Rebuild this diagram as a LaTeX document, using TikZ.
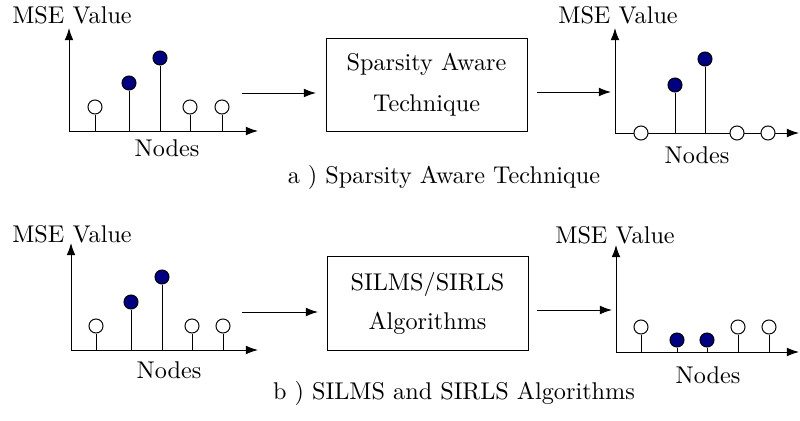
\documentclass[tikz,border=0pt]{standalone}
\usepackage{tikz}
\usetikzlibrary{shapes,arrows.meta}
\definecolor{darkblue}{RGB}{0,0,128}
\tikzstyle{hollow}=[circle,draw=black,fill=white,minimum size=5.8pt,inner sep=0pt]
\tikzstyle{solid}=[circle,draw=black,fill=darkblue,minimum size=5.8pt,inner sep=0pt]
\tikzstyle{blockbox}=[rectangle,draw=black,align=center,minimum width=83pt,minimum height=38.8pt,inner sep=0pt]
\tikzstyle{axis}=[-{Latex[length=5pt,width=3.6pt]}]

\begin{document}
\begin{tikzpicture}[x=0.413pt,y=-0.413pt]
\useasboundingbox (0,0) rectangle (800,421);
\coordinate (o1) at (69,131);
\coordinate (y1) at (69,28);
\coordinate (x1) at (258,131);
\node[hollow] (a11) at (95,107) {};
\node[solid] (a12) at (129,83) {};
\node[solid] (a13) at (160,58) {};
\node[hollow] (a14) at (190,107) {};
\node[hollow] (a15) at (222,107) {};
\draw (95,131) -- (a11);
\draw (129,131) -- (a12);
\draw (160,131) -- (a13);
\draw (190,131) -- (a14);
\draw (222,131) -- (a15);
\draw[axis] (o1) -- (y1);
\draw[axis] (o1) -- (x1);
\node[] (mse1) at (72,15) {MSE Value};
\node[] (nod1) at (167,148) {Nodes};
\node[blockbox] (tbox) at (426.5,85) {Sparsity Aware\\[5pt]Technique};
\coordinate (p1) at (242,93);
\coordinate (p2) at (316,93);
\coordinate (p3) at (537,92);
\coordinate (p4) at (611,92);
\draw[axis] (p1) -- (p2);
\draw[axis] (p3) -- (p4);
\coordinate (o2) at (615,133);
\coordinate (y2) at (615,28);
\coordinate (x2) at (799,133);
\draw[axis] (o2) -- (y2);
\draw[axis] (o2) -- (x2);
\node[hollow] (b11) at (641,133) {};
\node[solid] (b12) at (675,85) {};
\node[solid] (b13) at (705,59) {};
\node[hollow] (b14) at (737,133) {};
\node[hollow] (b15) at (768,133) {};
\draw (675,133) -- (b12);
\draw (705,133) -- (b13);
\node[] (mse2) at (618,15) {MSE Value};
\node[] (nod2) at (697,155) {Nodes};
\node[] (capa) at (444,177) {a ) Sparsity Aware Technique};

\coordinate (o3) at (71,350);
\coordinate (y3) at (71,243);
\coordinate (x3) at (258,350);
\node[hollow] (a21) at (96,326) {};
\node[solid] (a22) at (131,302) {};
\node[solid] (a23) at (162,277) {};
\node[hollow] (a24) at (192,326) {};
\node[hollow] (a25) at (223,326) {};
\draw (96,350) -- (a21);
\draw (131,350) -- (a22);
\draw (162,350) -- (a23);
\draw (192,350) -- (a24);
\draw (223,350) -- (a25);
\draw[axis] (o3) -- (y3);
\draw[axis] (o3) -- (x3);
\node[] (mse3) at (72,234) {MSE Value};
\node[] (nod3) at (169,370) {Nodes};
\node[blockbox] (bbox) at (427.5,303.5) {SILMS/SIRLS\\[4pt]Algorithms};
\coordinate (q1) at (242,312);
\coordinate (q2) at (318,312);
\coordinate (q3) at (537,310);
\coordinate (q4) at (612,310);
\draw[axis] (q1) -- (q2);
\draw[axis] (q3) -- (q4);
\coordinate (o4) at (616,352);
\coordinate (y4) at (616,245);
\coordinate (x4) at (799,352);
\node[hollow] (b21) at (641,327) {};
\node[solid] (b22) at (677,340) {};
\node[solid] (b23) at (707,340) {};
\node[hollow] (b24) at (738,327) {};
\node[hollow] (b25) at (769,327) {};
\draw (641,352) -- (b21);
\draw (677,352) -- (b22);
\draw (707,352) -- (b23);
\draw (738,352) -- (b24);
\draw (769,352) -- (b25);
\draw[axis] (o4) -- (y4);
\draw[axis] (o4) -- (x4);
\node[] (mse4) at (615,235) {MSE Value};
\node[] (nod4) at (708,375) {Nodes};
\node[] (capb) at (454,393) {b ) SILMS and SIRLS Algorithms};
\end{tikzpicture}
\end{document}
